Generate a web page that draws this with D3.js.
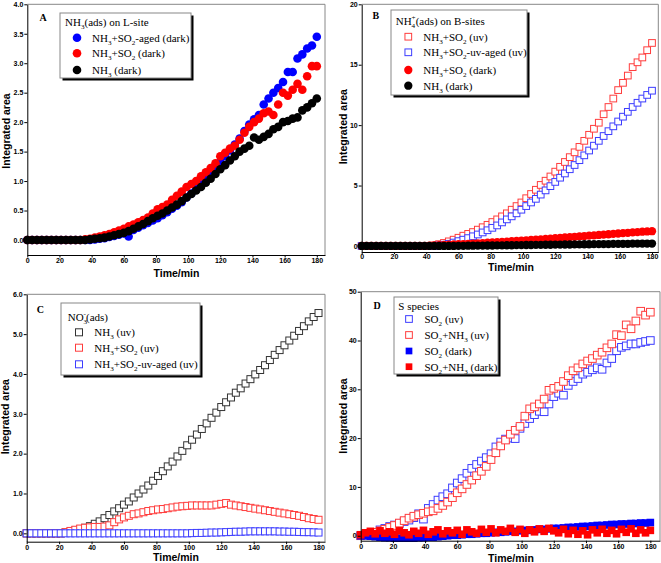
<!DOCTYPE html>
<html><head><meta charset="utf-8">
<script src="https://cdn.jsdelivr.net/npm/d3@7"></script>
<style>body{margin:0;background:#fff}svg{display:block}</style>
</head><body>
<svg id="chart" width="661" height="563"></svg>
<script>
// ---------- data ----------
const times = [0,3,6,9,12,15,18,21,24,27,30,33,36,39,42,45,48,51,54,57,60,63,66,69,72,75,78,81,84,87,90,93,96,99,102,105,108,111,114,117,120,123,126,129,132,135,138,141,144,147,150,153,156,159,162,165,168,171,174,177,180];
const xTicks = [0,20,40,60,80,100,120,140,160,180];

// Panel A: NH3(ads) on L-site
const aTitle = "NH_3(ads) on L-site";
const aLabels = ["NH_3+SO_2-aged (dark)", "NH_3+SO_2 (dark)", "NH_3 (dark)"];
const aSO2Aged = [0,0,0,0,0,0,0,0,0,0,0,0,0,0,0.01,0.02,0.03,0.05,0.07,0.09,0.11,0.06,0.17,0.21,0.25,0.29,0.33,0.37,0.42,0.47,0.53,0.58,0.64,0.72,0.79,0.86,0.94,1.02,1.1,1.2,1.32,1.42,1.52,1.62,1.72,1.85,1.96,2.05,2.12,2.3,2.4,2.5,2.58,2.68,2.85,2.85,3.08,3.15,3.25,3.3,3.45];
const aNH3SO2 = [0,0,0,0,0,0,0,0,0,0,0,0,0.01,0.02,0.04,0.06,0.08,0.1,0.13,0.16,0.19,0.23,0.26,0.3,0.34,0.38,0.45,0.52,0.56,0.6,0.68,0.75,0.82,0.9,0.95,1.0,1.08,1.15,1.22,1.3,1.42,1.48,1.55,1.6,1.7,1.82,1.92,2.0,2.06,2.15,2.18,2.12,2.3,2.5,2.45,2.55,2.65,2.55,2.78,2.95,2.95];
const aNH3 = [0,0,0,0,0,0,0,0,0,0,0,0,0,0.01,0.02,0.03,0.04,0.06,0.08,0.1,0.12,0.15,0.19,0.23,0.27,0.32,0.37,0.41,0.45,0.5,0.55,0.6,0.66,0.72,0.78,0.84,0.9,0.97,1.04,1.12,1.2,1.27,1.35,1.42,1.5,1.55,1.6,1.74,1.7,1.75,1.8,1.88,1.92,2.0,2.02,2.06,2.08,2.2,2.25,2.32,2.4];
const aYTicks = [0,0.5,1,1.5,2,2.5,3,3.5,4];

// Panel B: NH4+(ads) on B-sites
const bTitle = "NH_4^+(ads) on B-sites";
const bLabels = ["NH_3+SO_2 (uv)", "NH_3+SO_2-uv-aged (uv)", "NH_3+SO_2 (dark)", "NH_3 (dark)"];
const bNH3SO2uv = [0,0,0,0,0,0,0,0,0,0,0,0,0,0,0,0.05,0.15,0.25,0.38,0.52,0.68,0.85,1.0,1.15,1.35,1.55,1.75,1.98,2.2,2.45,2.7,3.0,3.3,3.6,3.95,4.3,4.65,5.05,5.4,5.75,6.15,6.55,6.95,7.35,7.75,8.2,8.7,9.2,9.7,10.2,10.9,11.5,12.2,12.9,13.5,14.1,14.8,15.2,15.6,16.2,16.8];
const bAgedUv = [0,0,0,0,0,0,0,0,0,0,0,0,0,0,0,0,0.05,0.1,0.18,0.28,0.4,0.52,0.65,0.8,0.95,1.12,1.3,1.5,1.7,1.95,2.2,2.45,2.7,3.0,3.3,3.6,3.9,4.25,4.6,4.95,5.3,5.65,6.0,6.35,6.7,7.1,7.5,7.9,8.3,8.7,9.1,9.5,9.9,10.3,10.7,11.1,11.5,11.85,12.2,12.5,12.85];
const bNH3SO2dark = [0,0,0,0,0,0,0,0,0,0,0,0,0,0,0.02,0.04,0.06,0.08,0.1,0.12,0.14,0.16,0.18,0.2,0.22,0.24,0.27,0.29,0.31,0.34,0.36,0.39,0.41,0.44,0.47,0.5,0.52,0.55,0.58,0.61,0.64,0.67,0.7,0.73,0.76,0.79,0.82,0.85,0.88,0.91,0.94,0.97,1.0,1.03,1.06,1.09,1.12,1.15,1.18,1.2,1.22];
const bNH3dark = [0,0,0,0,0,0,0,0,0,0,0,0,0,0,0,0,0,0,0,0,0.01,0.01,0.02,0.02,0.03,0.03,0.04,0.04,0.05,0.05,0.06,0.06,0.07,0.07,0.08,0.08,0.09,0.09,0.1,0.1,0.11,0.11,0.12,0.12,0.13,0.13,0.14,0.14,0.15,0.15,0.16,0.16,0.17,0.17,0.18,0.18,0.19,0.19,0.2,0.2,0.2];
const bYTicks = [0,5,10,15,20];

// Panel C: NO3-(ads)
const cTitle = "NO_3^-(ads)";
const cLabels = ["NH_3 (uv)", "NH_3+SO_2 (uv)", "NH_3+SO_2-uv-aged (uv)"];
const cNH3uv = [0,0,0,0,0,0,0,0,0.02,0.04,0.07,0.1,0.14,0.18,0.24,0.3,0.38,0.46,0.55,0.63,0.72,0.8,0.9,1.0,1.1,1.2,1.32,1.44,1.56,1.68,1.8,1.93,2.07,2.21,2.35,2.48,2.62,2.76,2.9,3.03,3.17,3.29,3.41,3.53,3.64,3.76,3.87,3.99,4.1,4.22,4.35,4.48,4.6,4.72,4.84,4.96,5.08,5.2,5.32,5.43,5.53];
const cNH3SO2uv = [0,0,0,0,0,0,0,0,0.03,0.06,0.09,0.12,0.14,0.15,0.16,0.16,0.17,0.2,0.28,0.35,0.4,0.44,0.48,0.5,0.53,0.56,0.58,0.6,0.61,0.63,0.65,0.67,0.68,0.69,0.7,0.7,0.7,0.7,0.7,0.72,0.74,0.76,0.72,0.7,0.68,0.66,0.64,0.62,0.6,0.58,0.56,0.54,0.52,0.5,0.48,0.46,0.44,0.41,0.38,0.36,0.34];
const cAgedUv = [0,0,0,0,0,0,0,0,0,0,0,0,0,0,0,0,0,0,0,0,0,0,0,0,0,0,0,0,0,0,0,0,0,0,0.005,0.01,0.01,0.015,0.02,0.02,0.025,0.03,0.035,0.04,0.04,0.045,0.05,0.05,0.05,0.05,0.05,0.05,0.045,0.045,0.04,0.04,0.035,0.03,0.03,0.025,0.02];
const cYTicks = [0,1,2,3,4,5,6];

// Panel D: S species
const dTitle = "S species";
const dLabels = ["SO_2 (uv)", "SO_2+NH_3 (uv)", "SO_2 (dark)", "SO_2+NH_3 (dark)"];
const dSO2uv = [0,0.1,0.3,0.7,1.2,1.5,1.9,2.2,2.5,2.9,3.2,3.7,4.5,3.4,5.6,6.4,7.3,8.0,8.6,9.8,10.8,11.7,12.8,13.8,14.6,15.3,16.0,16.8,18.2,19.2,19.8,20.0,19.9,22.0,23.0,24.0,24.8,25.5,25.4,27.0,28.5,29.2,28.8,30.8,31.6,32.2,33.1,33.5,34.0,34.4,34.1,35.4,36.3,37.9,38.6,38.9,39.3,39.3,39.6,39.8,40.0];
const dSO2NH3uv = [0,0.2,0.4,0.7,1.0,1.3,1.7,2.1,2.6,3.1,3.6,4.0,4.3,4.6,4.9,5.1,5.6,6.2,6.9,7.8,8.8,9.6,10.5,11.4,12.3,13.2,14.2,15.6,17.0,18.4,19.6,20.8,21.6,22.4,24.5,26.0,26.4,27.0,28.0,29.8,30.2,30.6,31.6,32.8,33.8,34.4,35.2,35.8,36.3,37.0,37.6,38.5,39.3,41.2,41.0,43.2,42.4,44.0,46.0,45.2,45.8];
const dSO2dark = [0,0,-0.1,-0.2,-0.3,-0.4,-0.4,-0.5,-0.5,-0.5,-0.5,-0.5,-0.4,-0.4,-0.3,-0.3,-0.2,-0.1,0,0.1,0.1,0.2,0.3,0.3,0.4,0.5,0.5,0.6,0.7,0.7,0.8,0.9,0.9,1.0,1.1,1.1,1.2,1.3,1.3,1.4,1.5,1.5,1.6,1.7,1.7,1.8,1.9,1.9,2.0,2.1,2.1,2.2,2.3,2.3,2.4,2.4,2.5,2.5,2.6,2.6,2.7];
const dSO2NH3dark = [0.2,0.6,0.9,0.4,1.0,0.5,0.8,0.3,1.0,0.6,0.2,0.9,0.5,1.1,0.3,0.8,1.2,0.4,1.0,0.6,1.1,0.3,1.2,0.8,0.5,1.3,0.7,1.4,0.6,1.2,0.9,1.5,0.7,1.3,0.5,1.2,0.8,1.4,0.9,1.5,1.0,0.6,1.3,0.4,1.1,0.3,1.0,0.2,1.2,0.6,1.3,0.5,1.1,0.4,1.3,0.7,1.4,0.5,1.2,0.6,1.1];
const dYTicks = [0,10,20,30,40,50];

// ---------- drawing ----------
const svg = d3.select('#chart');
const SANS = "'Liberation Sans', Arial, Helvetica, sans-serif";
const SERIF = "'Liberation Serif', 'Times New Roman', Times, serif";

function richText(sel, str, size) {
  const parts = [];
  let buf = '', i = 0;
  while (i < str.length) {
    const c = str[i];
    if ((c === '_' || c === '^') && i + 1 < str.length) {
      if (buf) { parts.push({t: buf, k: 'n'}); buf = ''; }
      parts.push({t: str[i + 1], k: c === '_' ? 'sub' : 'sup'});
      i += 2;
    } else { buf += c; i++; }
  }
  if (buf) parts.push({t: buf, k: 'n'});
  let cur = 0, prev = 'n';
  parts.forEach(p => {
    const target = p.k === 'sub' ? size * 0.3 : p.k === 'sup' ? -size * 0.4 : 0;
    const ts = sel.append('tspan').text(p.t).attr('dy', target - cur);
    if (p.k !== 'n') ts.attr('font-size', size * 0.65);
    if (p.k === 'sup' && prev === 'sub') ts.attr('dx', -size * 0.65 * 0.5);
    cur = target; prev = p.k;
  });
}

function marker(g, shape, color, size, cx, cy) {
  if (shape === 'circle') {
    g.append('circle').attr('cx', cx).attr('cy', cy).attr('r', size / 2).attr('fill', color);
  } else {
    g.append('rect').attr('x', cx - size / 2).attr('y', cy - size / 2)
      .attr('width', size).attr('height', size)
      .attr('fill', shape === 'squareF' ? color : '#fff')
      .attr('stroke', color).attr('stroke-width', shape === 'squareF' ? 0 : 1);
  }
}

function panel(cfg) {
  const g = svg.append('g');
  const x = d3.scaleLinear().domain([0, cfg.xMax]).range([cfg.L, cfg.R]);
  const y = d3.scaleLinear().domain([cfg.yMin, cfg.yMax]).range([cfg.B, cfg.T]);

  // frame top/right
  g.append('line').attr('x1', cfg.L).attr('x2', cfg.R).attr('y1', cfg.T).attr('y2', cfg.T).attr('stroke', '#888');
  g.append('line').attr('x1', cfg.R).attr('x2', cfg.R).attr('y1', cfg.T).attr('y2', cfg.B).attr('stroke', '#888');

  // series
  cfg.series.forEach(s => {
    const sg = g.append('g');
    const pts = times.map((t, i) => [t, s.values[i]]);
    pts.forEach(d => marker(sg, s.shape, s.color, s.size, x(d[0]), y(d[1])));
  });

  // axes
  const xa = d3.axisBottom(x).tickValues(xTicks).tickSizeInner(cfg.xTick || 2.5).tickSizeOuter(0).tickPadding(cfg.xPad != null ? cfg.xPad : 0.5).tickFormat(d3.format('d'));
  const ya = d3.axisLeft(y).tickValues(cfg.yTicks).tickSizeInner(3).tickSizeOuter(0).tickPadding(1).tickFormat(d3.format(cfg.fmt));
  const gx = g.append('g').attr('transform', `translate(0,${cfg.B})`).call(xa);
  const gy = g.append('g').attr('transform', `translate(${cfg.L},0)`).call(ya);
  [gx, gy].forEach(ax => {
    ax.selectAll('text').attr('font-family', SANS).attr('font-weight', 'bold').attr('font-size', 7).attr('fill', '#000');
    ax.selectAll('line').attr('stroke', '#000');
    ax.select('.domain').attr('stroke', '#000');
  });

  // axis titles
  g.append('text').attr('x', cfg.xLab[0]).attr('y', cfg.xLab[1]).attr('text-anchor', 'middle')
    .attr('font-family', SANS).attr('font-weight', 'bold').attr('font-size', 10.5).text('Time/min');
  g.append('text').attr('transform', `translate(${cfg.yLab[0]},${cfg.yLab[1]}) rotate(-90)`).attr('text-anchor', 'middle')
    .attr('font-family', SANS).attr('font-weight', 'bold').attr('font-size', 10.5).text('Integrated area');

  // panel letter
  g.append('text').attr('x', cfg.letter[1]).attr('y', cfg.letter[2])
    .attr('font-family', SERIF).attr('font-weight', 'bold').attr('font-size', 10).text(cfg.letter[0]);

  // legend
  const lg = cfg.legend;
  g.append('rect').attr('x', lg.x + 2.5).attr('y', lg.y + 2.5).attr('width', lg.w).attr('height', lg.h).attr('fill', '#000');
  g.append('rect').attr('x', lg.x).attr('y', lg.y).attr('width', lg.w).attr('height', lg.h).attr('fill', '#fff').attr('stroke', '#888');
  const fs = 11;
  const tt = g.append('text').attr('x', lg.titleX).attr('y', lg.rows[0] + 3.8).attr('font-family', SERIF).attr('font-size', fs);
  richText(tt, cfg.title, fs);
  cfg.series.forEach((s, i) => {
    marker(g, s.shape, s.color, s.legSize || s.size, lg.markerX, lg.rows[i + 1]);
    const t = g.append('text').attr('x', lg.textX).attr('y', lg.rows[i + 1] + 3.8).attr('font-family', SERIF).attr('font-size', fs);
    richText(t, cfg.labels[i], fs);
  });
}

const BLUE = '#0000ff', RED = '#ff0000', BLACK = '#000';
const BLUE_O = '#3c3cff', RED_O = '#ff3c3c', BLACK_O = '#333';

panel({
  L: 27.3, R: 325, T: 4.3, B: 255, xMax: 185.1, yMin: -0.255, yMax: 4, yTicks: aYTicks, fmt: '.1f',
  xLab: [176.5, 276.5], yLab: [9.5, 131], letter: ['A', 39.5, 21],
  title: aTitle, labels: aLabels,
  legend: {x: 60, y: 13, w: 131, h: 65, titleX: 65, markerX: 77, textX: 92, rows: [21.7, 37.7, 53.3, 70]},
  series: [
    {values: aSO2Aged, shape: 'circle', color: BLUE, size: 8.6},
    {values: aNH3SO2, shape: 'circle', color: RED, size: 8.6},
    {values: aNH3, shape: 'circle', color: BLACK, size: 8.6}
  ]
});

panel({
  L: 361.7, R: 658.3, T: 4.3, B: 252, xMax: 183.9, yMin: -0.5, yMax: 20, yTicks: bYTicks, fmt: 'd',
  xTick: 2, xPad: 0,
  xLab: [511, 271], yLab: [346.5, 126.7], letter: ['B', 372.5, 18.5],
  title: bTitle, labels: bLabels,
  legend: {x: 391, y: 10, w: 136, h: 85, titleX: 395.7, markerX: 408.3, textX: 423.3, rows: [21, 36.7, 52.3, 70, 85.7]},
  series: [
    {values: bNH3SO2uv, shape: 'square', color: RED_O, size: 6.7},
    {values: bAgedUv, shape: 'square', color: BLUE_O, size: 6.7},
    {values: bNH3SO2dark, shape: 'circle', color: RED, size: 8.3},
    {values: bNH3dark, shape: 'circle', color: BLACK, size: 8.3}
  ]
});

panel({
  L: 26.7, R: 325, T: 294.3, B: 541.7, xMax: 184, yMin: -0.21, yMax: 6, yTicks: cYTicks, fmt: '.1f',
  xLab: [176, 561], yLab: [9, 416.7], letter: ['C', 36.7, 312.5],
  title: cTitle, labels: cLabels,
  legend: {x: 61, y: 303, w: 139, h: 72, titleX: 67.7, markerX: 79, textX: 94.3, rows: [316.7, 332.3, 347.7, 364.3]},
  series: [
    {values: cNH3uv, shape: 'square', color: BLACK_O, size: 7},
    {values: cNH3SO2uv, shape: 'square', color: RED_O, size: 7},
    {values: cAgedUv, shape: 'square', color: BLUE_O, size: 7}
  ]
});

panel({
  L: 360.7, R: 660, T: 291.7, B: 540.7, xMax: 186, yMin: -1.02, yMax: 50, yTicks: dYTicks, fmt: 'd',
  xLab: [511, 562], yLab: [346.5, 416], letter: ['D', 373.5, 309],
  title: dTitle, labels: dLabels,
  legend: {x: 394, y: 297, w: 104, h: 77, titleX: 398.3, markerX: 409, textX: 424.5, rows: [305.7, 319, 335, 351, 366.7]},
  series: [
    {values: dSO2uv, shape: 'square', color: BLUE_O, size: 7.6, legSize: 6.7},
    {values: dSO2NH3uv, shape: 'square', color: RED_O, size: 7.6, legSize: 6.7},
    {values: dSO2dark, shape: 'squareF', color: BLUE, size: 7.6, legSize: 6.7},
    {values: dSO2NH3dark, shape: 'squareF', color: RED, size: 7.6, legSize: 6.7}
  ]
});
</script>
</body></html>
